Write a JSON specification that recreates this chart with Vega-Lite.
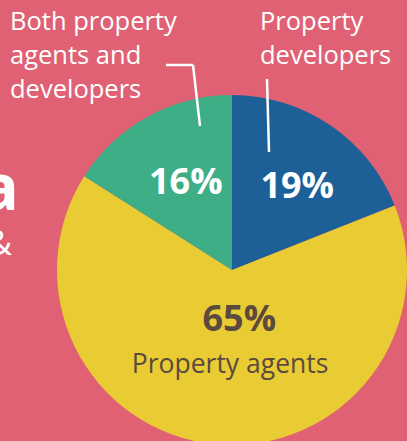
{
  "$schema": "https://vega.github.io/schema/vega-lite/v6.json",
  "width": 350,
  "height": 342,
  "autosize": {"type": "none"},
  "padding": {"left": 57, "top": 99, "right": 0, "bottom": 0},
  "background": "#E06173",
  "config": {"view": {"stroke": null}, "font": "Open Sans"},
  "data": {
    "values": [
      {"cat": "Property developers", "pct": 19, "label": "19%", "o": 1},
      {"cat": "Property agents", "pct": 65, "label": "65%", "o": 2},
      {"cat": "Both property agents and developers", "pct": 16, "label": "16%", "o": 3}
    ]
  },
  "encoding": {
    "theta": {"field": "pct", "type": "quantitative", "stack": true},
    "order": {"field": "o", "type": "quantitative"}
  },
  "layer": [
    {
      "mark": {"type": "arc", "outerRadius": 175},
      "encoding": {
        "color": {
          "field": "cat",
          "type": "nominal",
          "scale": {
            "domain": ["Property developers", "Property agents", "Both property agents and developers"],
            "range": ["#1D6098", "#E9CB34", "#3DAE86"]
          },
          "legend": null
        }
      }
    },
    {
      "mark": {"type": "text", "radius": 100, "fontSize": 36, "fontWeight": "bold", "color": "white", "baseline": "middle", "dx": 2, "dy": 1},
      "encoding": {
        "text": {"condition": {"test": "datum.o == 3", "field": "label"}, "value": ""}
      }
    },
    {
      "mark": {"type": "text", "radius": 100, "fontSize": 36, "fontWeight": "bold", "color": "white", "baseline": "middle", "dx": 9},
      "encoding": {
        "text": {"condition": {"test": "datum.o == 1", "field": "label"}, "value": ""}
      }
    },
    {
      "mark": {"type": "text", "radius": 50, "fontSize": 36, "fontWeight": "bold", "color": "#5B4A3E", "baseline": "middle", "dx": 12},
      "encoding": {
        "text": {"condition": {"test": "datum.o == 2", "field": "label"}, "value": ""}
      }
    },
    {
      "mark": {"type": "text", "radius": 95, "fontSize": 26.5, "color": "#5B4A3E", "baseline": "middle", "dx": 7},
      "encoding": {
        "text": {"condition": {"test": "datum.o == 2", "field": "cat"}, "value": ""}
      }
    },
    {
      "data": {"values": [{"t": ["Both property", "agents and", "developers"]}]},
      "mark": {"type": "text", "x": -47, "y": -69, "align": "left", "baseline": "alphabetic", "fontSize": 25.5, "lineHeight": 34, "color": "white"},
      "encoding": {"text": {"field": "t"}, "theta": null, "order": null}
    },
    {
      "data": {"values": [{"t": ["Property", "developers"]}]},
      "mark": {"type": "text", "x": 203, "y": -69, "align": "left", "baseline": "alphabetic", "fontSize": 25.5, "lineHeight": 34, "color": "white"},
      "encoding": {"text": {"field": "t"}, "theta": null, "order": null}
    },
    {
      "data": {"values": [{"t": "ia"}]},
      "mark": {"type": "text", "x": -38, "y": 111, "align": "right", "baseline": "alphabetic", "fontSize": 64, "fontWeight": "bold", "color": "white"},
      "encoding": {"text": {"field": "t"}, "theta": null, "order": null}
    },
    {
      "data": {"values": [{"t": "&"}]},
      "mark": {"type": "text", "x": -45, "y": 156, "align": "right", "baseline": "alphabetic", "fontSize": 35, "color": "white"},
      "encoding": {"text": {"field": "t"}, "theta": null, "order": null}
    },
    {
      "data": {"values": [{"seg": 1}]},
      "mark": {"type": "rule", "color": "white", "strokeWidth": 2.5},
      "encoding": {"x": {"value": 109}, "y": {"value": -34}, "x2": {"value": 136}, "y2": {"value": -34}, "theta": null, "order": null}
    },
    {
      "data": {"values": [{"seg": 2}]},
      "mark": {"type": "rule", "color": "white", "strokeWidth": 2.5},
      "encoding": {"x": {"value": 136}, "y": {"value": -34}, "x2": {"value": 143}, "y2": {"value": 27}, "theta": null, "order": null}
    },
    {
      "data": {"values": [{"seg": 3}]},
      "mark": {"type": "rule", "color": "white", "strokeWidth": 2.5},
      "encoding": {"x": {"value": 210}, "y": {"value": -20}, "x2": {"value": 212}, "y2": {"value": 53}, "theta": null, "order": null}
    }
  ]
}
